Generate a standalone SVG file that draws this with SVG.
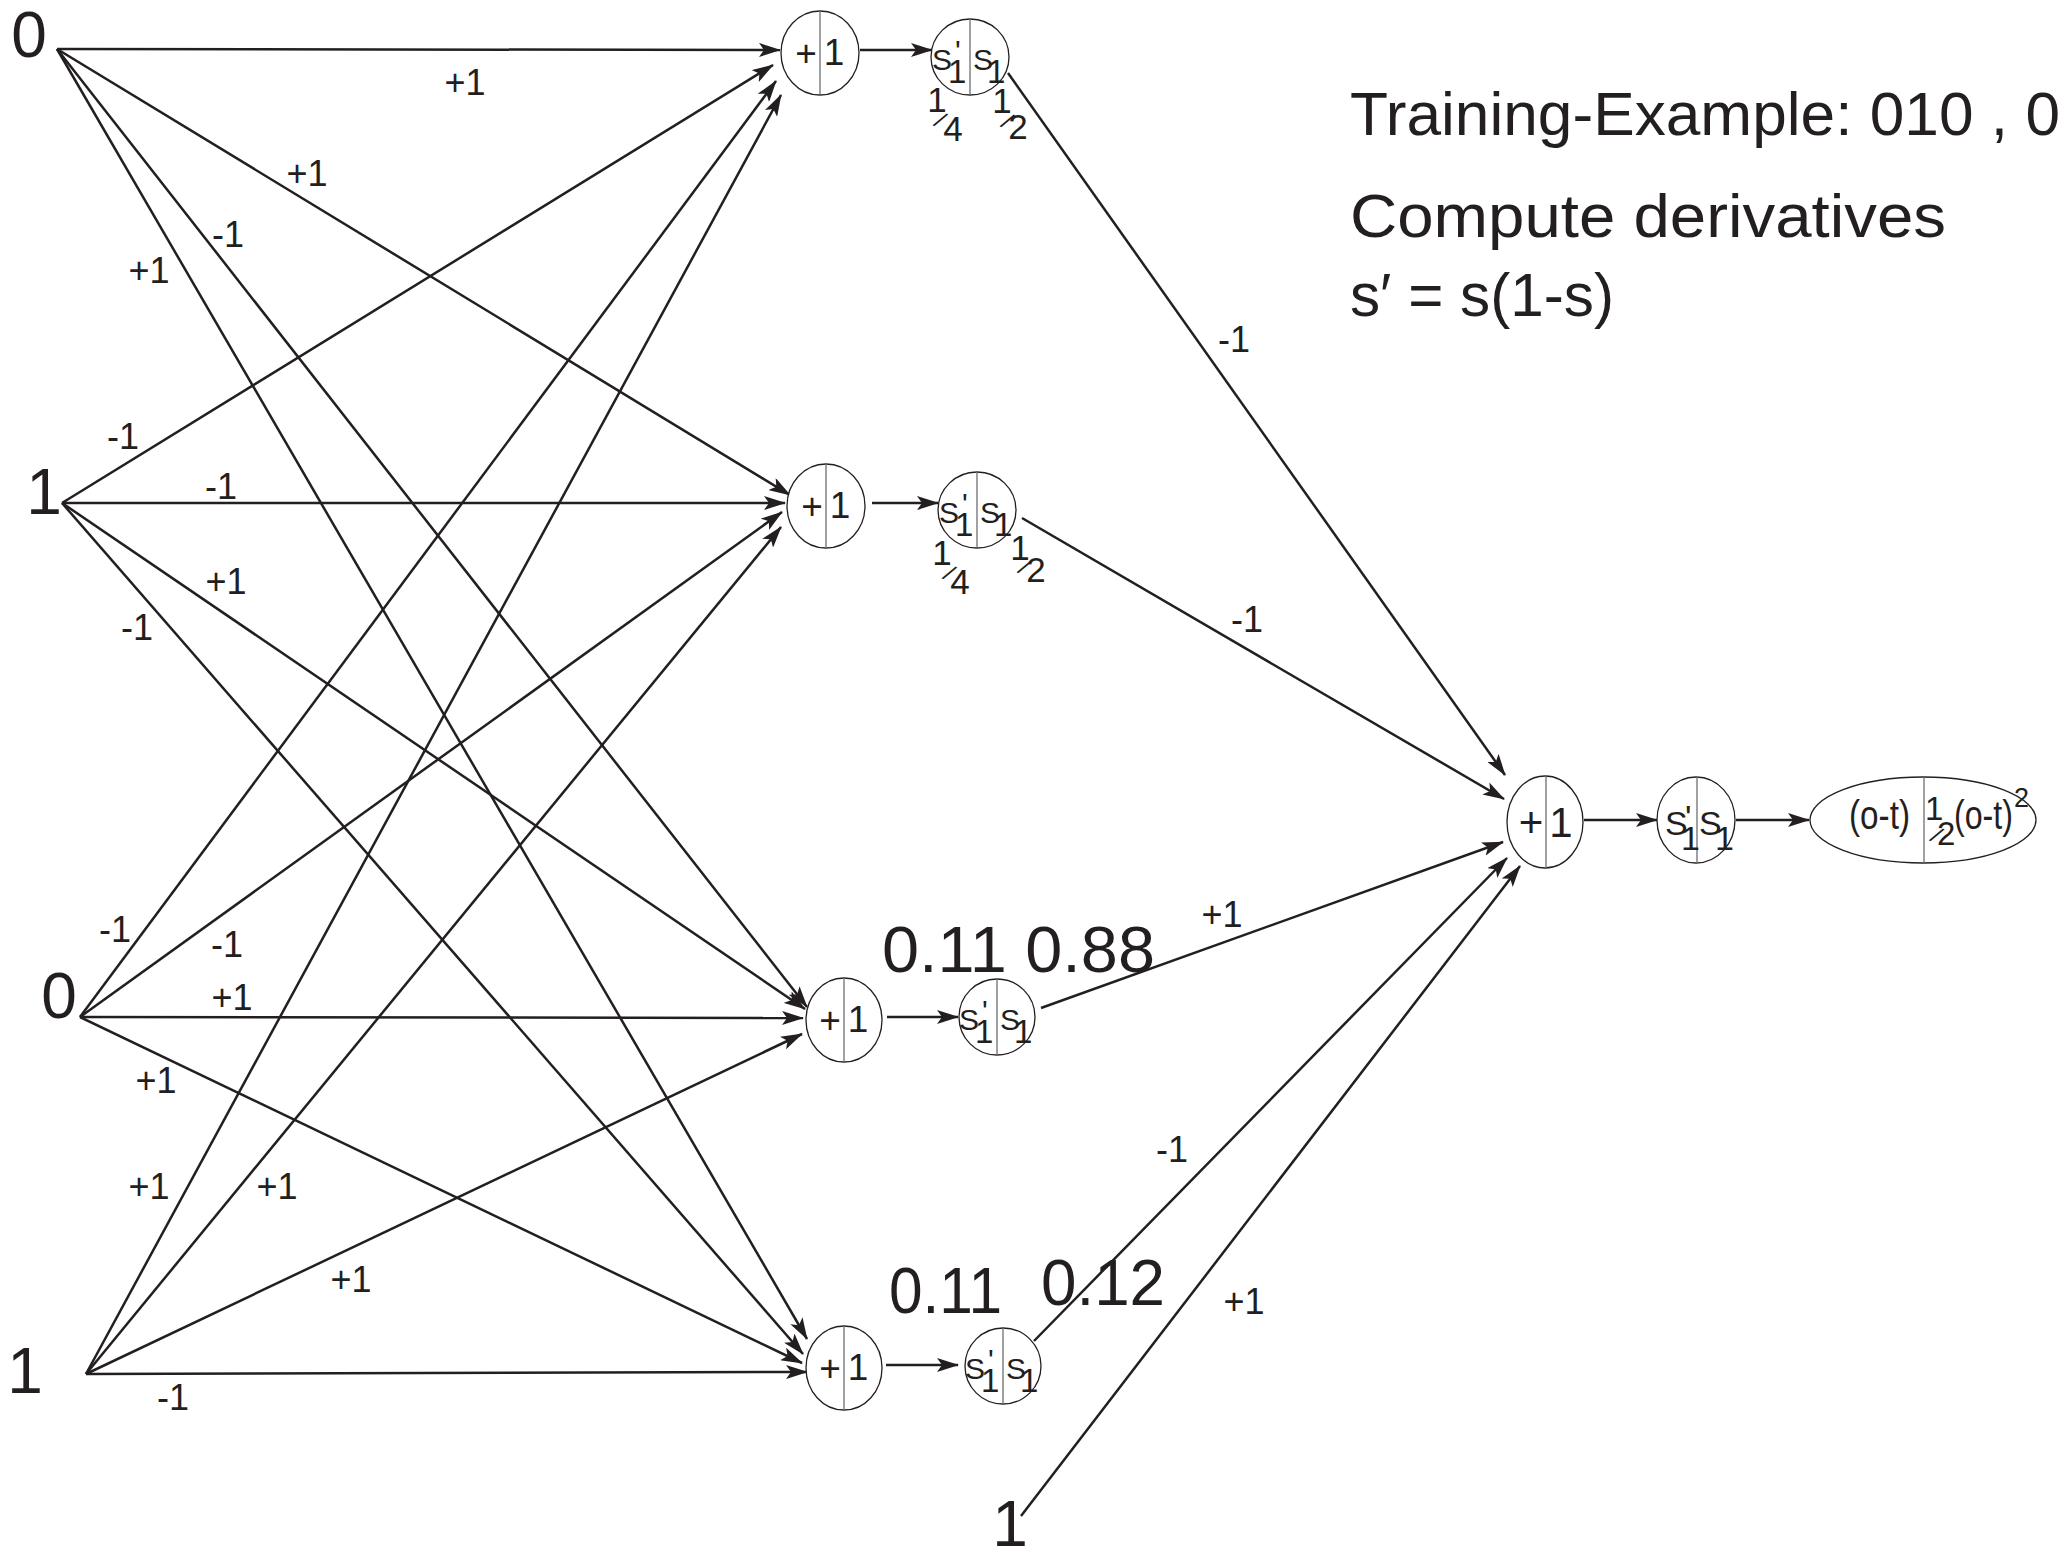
<svg xmlns="http://www.w3.org/2000/svg" width="2071" height="1557" viewBox="0 0 2071 1557">
<defs>
<marker id="ah" viewBox="0 0 22 14" refX="21" refY="7" markerWidth="22" markerHeight="14" markerUnits="userSpaceOnUse" orient="auto">
<path d="M0,0 L22,7 L0,14 L5,7 z" fill="#231f20"/>
</marker>
<style>
text{font-family:"Liberation Sans",Arial,sans-serif;fill:#231f20}
.edge{stroke:#231f20;stroke-width:2.5;fill:none;marker-end:url(#ah)}
.node{fill:#fff;stroke:#231f20;stroke-width:1.3}
.div{stroke:#6d6e71;stroke-width:1.3}
.in{font-size:64px;text-anchor:middle}
.wl{font-size:36px;text-anchor:middle}
.pm{font-size:37px;text-anchor:middle}
.pmo{font-size:42px;text-anchor:middle}
.s{font-size:30px}
.so{font-size:34px}
.sub{font-size:33px}
.fr{font-size:35px;text-anchor:middle}
.sl{font-size:24px}
.big{font-size:65px}
.title{font-size:62px}
.el{font-size:40px}
</style>
</defs>
<rect width="2071" height="1557" fill="#fff"/>

<g id="connectors">
<line class="edge" x1="57" y1="49" x2="780" y2="50"/>
<line class="edge" x1="57" y1="49" x2="790" y2="495"/>
<line class="edge" x1="57" y1="49" x2="807" y2="1007"/>
<line class="edge" x1="57" y1="49" x2="807" y2="1339"/>
<line class="edge" x1="62" y1="503" x2="773" y2="65"/>
<line class="edge" x1="62" y1="503" x2="785" y2="503"/>
<line class="edge" x1="62" y1="503" x2="805" y2="1009"/>
<line class="edge" x1="62" y1="503" x2="803" y2="1354"/>
<line class="edge" x1="80" y1="1017" x2="776" y2="81"/>
<line class="edge" x1="80" y1="1017" x2="782" y2="512"/>
<line class="edge" x1="80" y1="1017" x2="803" y2="1018"/>
<line class="edge" x1="80" y1="1017" x2="802" y2="1363"/>
<line class="edge" x1="86" y1="1374" x2="781" y2="95"/>
<line class="edge" x1="86" y1="1374" x2="781" y2="527"/>
<line class="edge" x1="86" y1="1374" x2="802" y2="1034"/>
<line class="edge" x1="86" y1="1374" x2="807" y2="1372"/>
<line class="edge" x1="860" y1="50" x2="932" y2="50"/>
<line class="edge" x1="872" y1="503" x2="938" y2="503"/>
<line class="edge" x1="887" y1="1017" x2="958" y2="1017"/>
<line class="edge" x1="886" y1="1365" x2="958" y2="1365"/>
<line class="edge" x1="1008" y1="73" x2="1505" y2="775"/>
<line class="edge" x1="1022" y1="518" x2="1504" y2="799"/>
<line class="edge" x1="1041" y1="1008" x2="1503" y2="842"/>
<line class="edge" x1="1034" y1="1341" x2="1507" y2="858"/>
<line class="edge" x1="1021" y1="1516" x2="1520" y2="866"/>
<line class="edge" x1="1584" y1="820" x2="1657" y2="820"/>
<line class="edge" x1="1736" y1="820" x2="1809" y2="820"/>
</g>

<g id="edge-labels">
<text class="wl" x="465" y="95">+1</text>
<text class="wl" x="307" y="186">+1</text>
<text class="wl" x="228" y="247">-1</text>
<text class="wl" x="149" y="283">+1</text>
<text class="wl" x="123" y="449">-1</text>
<text class="wl" x="221" y="499">-1</text>
<text class="wl" x="226" y="594">+1</text>
<text class="wl" x="137" y="640">-1</text>
<text class="wl" x="115" y="942">-1</text>
<text class="wl" x="227" y="957">-1</text>
<text class="wl" x="232" y="1010">+1</text>
<text class="wl" x="156" y="1093">+1</text>
<text class="wl" x="149" y="1199">+1</text>
<text class="wl" x="277" y="1199">+1</text>
<text class="wl" x="351" y="1292">+1</text>
<text class="wl" x="173" y="1410">-1</text>
<text class="wl" x="1234" y="352">-1</text>
<text class="wl" x="1247" y="632">-1</text>
<text class="wl" x="1222" y="927">+1</text>
<text class="wl" x="1172" y="1162">-1</text>
<text class="wl" x="1244" y="1314">+1</text>
</g>

<g id="in1"><text class="in" x="29" y="57">0</text></g>
<g id="in2"><text class="in" x="44" y="514">1</text></g>
<g id="in3"><text class="in" x="59" y="1018">0</text></g>
<g id="in4"><text class="in" x="25" y="1393">1</text></g>
<g id="bias"><text class="in" x="1010" y="1546">1</text></g>

<g id="h1">
<ellipse class="node" cx="820" cy="53" rx="39" ry="42"/>
<line class="div" x1="820" y1="11" x2="820" y2="95"/>
<text class="pm"><tspan x="806" y="66">+</tspan><tspan x="834" y="65">1</tspan></text>
</g>
<g id="h2">
<ellipse class="node" cx="826" cy="506" rx="39" ry="42"/>
<line class="div" x1="826" y1="464" x2="826" y2="548"/>
<text class="pm"><tspan x="812" y="519">+</tspan><tspan x="840" y="518">1</tspan></text>
</g>
<g id="h3">
<ellipse class="node" cx="844" cy="1020" rx="38" ry="42"/>
<line class="div" x1="844" y1="978" x2="844" y2="1062"/>
<text class="pm"><tspan x="830" y="1033">+</tspan><tspan x="858" y="1032">1</tspan></text>
</g>
<g id="h4">
<ellipse class="node" cx="844" cy="1368" rx="38" ry="42"/>
<line class="div" x1="844" y1="1326" x2="844" y2="1410"/>
<text class="pm"><tspan x="830" y="1381">+</tspan><tspan x="858" y="1380">1</tspan></text>
</g>

<g id="s1">
<ellipse class="node" cx="970" cy="57" rx="39" ry="38"/>
<line class="div" x1="970" y1="19" x2="970" y2="95"/>
<text class="s"><tspan x="932" y="70">S</tspan><tspan x="955" y="61">'</tspan><tspan class="sub" x="948" y="83">1</tspan><tspan x="973" y="70">S</tspan><tspan class="sub" x="987" y="83">1</tspan></text>
<text class="fr"><tspan x="937" y="112">1</tspan><tspan class="sl" x="936" y="125" rotate="35">/</tspan><tspan x="953" y="141">4</tspan></text>
<text class="fr"><tspan x="1002" y="113">1</tspan><tspan class="sl" x="1003" y="126" rotate="35">/</tspan><tspan x="1018" y="139">2</tspan></text>
</g>
<g id="s2">
<ellipse class="node" cx="977" cy="510" rx="39" ry="38"/>
<line class="div" x1="977" y1="472" x2="977" y2="548"/>
<text class="s"><tspan x="939" y="523">S</tspan><tspan x="962" y="514">'</tspan><tspan class="sub" x="955" y="536">1</tspan><tspan x="980" y="523">S</tspan><tspan class="sub" x="994" y="536">1</tspan></text>
<text class="fr"><tspan x="942" y="565">1</tspan><tspan class="sl" x="945" y="578" rotate="35">/</tspan><tspan x="960" y="594">4</tspan></text>
<text class="fr"><tspan x="1020" y="560">1</tspan><tspan class="sl" x="1020" y="572" rotate="35">/</tspan><tspan x="1036" y="582">2</tspan></text>
</g>
<g id="s3">
<ellipse class="node" cx="997" cy="1017" rx="38" ry="38"/>
<line class="div" x1="997" y1="979" x2="997" y2="1055"/>
<text class="s"><tspan x="959" y="1030">S</tspan><tspan x="982" y="1021">'</tspan><tspan class="sub" x="975" y="1043">1</tspan><tspan x="1000" y="1030">S</tspan><tspan class="sub" x="1014" y="1043">1</tspan></text>
</g>
<g id="s4">
<ellipse class="node" cx="1003" cy="1366" rx="38" ry="38"/>
<line class="div" x1="1003" y1="1328" x2="1003" y2="1404"/>
<text class="s"><tspan x="965" y="1379">S</tspan><tspan x="988" y="1370">'</tspan><tspan class="sub" x="981" y="1392">1</tspan><tspan x="1006" y="1379">S</tspan><tspan class="sub" x="1020" y="1392">1</tspan></text>
</g>

<g id="vals3"><text class="big" x="882" y="972" textLength="273" lengthAdjust="spacingAndGlyphs">0.11 0.88</text></g>
<g id="vals4">
<text class="big" x="889" y="1313" textLength="113" lengthAdjust="spacingAndGlyphs">0.11</text>
<text class="big" x="1041" y="1305" textLength="124" lengthAdjust="spacingAndGlyphs">0.12</text>
</g>

<g id="osum">
<ellipse class="node" cx="1545" cy="822" rx="38" ry="46"/>
<line class="div" x1="1546" y1="776" x2="1546" y2="868"/>
<text class="pmo"><tspan x="1531" y="837">+</tspan><tspan x="1561" y="837">1</tspan></text>
</g>
<g id="osig">
<ellipse class="node" cx="1696" cy="820" rx="39" ry="43"/>
<line class="div" x1="1697" y1="777" x2="1697" y2="863"/>
<text class="so"><tspan x="1665" y="835">S</tspan><tspan x="1685" y="829">'</tspan><tspan x="1681" y="850">1</tspan><tspan x="1699" y="835">S</tspan><tspan x="1715" y="850">1</tspan></text>
</g>
<g id="err">
<ellipse class="node" cx="1923" cy="820" rx="113" ry="43"/>
<line class="div" x1="1924" y1="777" x2="1924" y2="863"/>
<text class="el" x="1849" y="829" textLength="61" lengthAdjust="spacingAndGlyphs">(o-t)</text>
<text style="font-size:33px"><tspan x="1925" y="820">1</tspan><tspan class="sl" x="1929" y="840" rotate="35">/</tspan><tspan x="1937" y="845">2</tspan></text>
<text class="el" x="1954" y="829" textLength="59" lengthAdjust="spacingAndGlyphs">(o-t)</text>
<text style="font-size:27px" x="2014" y="807">2</text>
</g>

<g id="notes">
<text class="title" x="1350" y="135" textLength="710" lengthAdjust="spacingAndGlyphs">Training-Example: 010 , 0</text>
<text class="title" x="1350" y="237" textLength="596" lengthAdjust="spacingAndGlyphs">Compute derivatives</text>
<text class="title" x="1350" y="316" textLength="264" lengthAdjust="spacingAndGlyphs">s′ = s(1-s)</text>
</g>
</svg>
